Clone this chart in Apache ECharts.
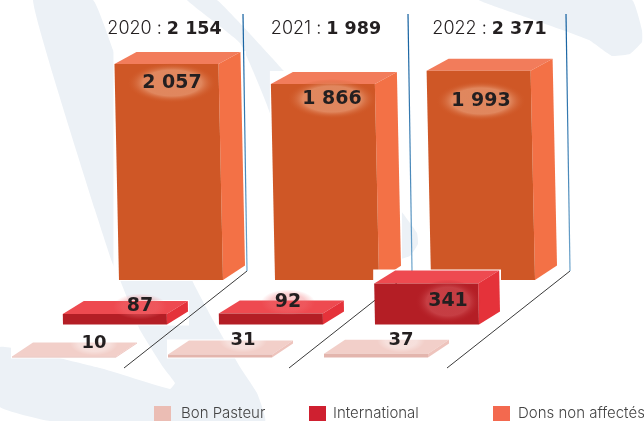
<!DOCTYPE html>
<html>
<head>
<meta charset="utf-8">
<style>html,body{margin:0;padding:0;background:#fff;overflow:hidden}#c{width:644px;height:421px}</style>
<script src="https://cdn.jsdelivr.net/npm/echarts@6/dist/echarts.min.js"></script>
</head>
<body>
<div id="c"></div>
<script>
const years = ['2020', '2021', '2022'];
const totals = [2154, 1989, 2371];
const bonPasteur = [10, 31, 37];
const international = [87, 92, 341];
const donsNonAffectes = [2057, 1866, 1993];
const seriesNames = ['Bon Pasteur', 'International', 'Dons non affectés'];

const fmt = v => String(v).replace(/\B(?=(\d{3})+$)/g, ' ');
const pairs = vals => vals.map((v, i) => [years[i], v]);

const bigFont = '"DejaVu Sans"';
const thinFont = 'Inter, Lato, sans-serif';

function geom(look, api) {
  const i = api.value(0), v = api.value(1);
  const top = api.coord([i, v]), base = api.coord([i, 0]);
  const w = api.size([1, 0])[0] * 2 / 3;
  const h = base[1] - top[1];
  return { i, v, w, h, skew: h * look.skew, x0: base[0] - w / 2, yb: base[1], yt: top[1] };
}

function halo(look) {
  return function (params, api) {
    const g = geom(look, api);
    return { type: 'rect', shape: { x: g.x0 - g.skew - 1, y: g.yt - look.dy - 1, width: g.w + look.dx + g.skew + 2, height: g.h + look.dy + 2 }, style: { fill: '#fff' } };
  };
}

function box(look) {
  return function (params, api) {
    const g = geom(look, api);
    const { i, v, w, h, skew, x0, yb, yt } = g;
    const dx = look.dx, dy = look.dy, dyB = dy + h * look.skewY;
    const front = [[x0 - skew, yt], [x0 - skew + w, yt], [x0 + w, yb], [x0, yb]];
    const topFace = [[x0 - skew, yt], [x0 - skew + dx, yt - dy], [x0 - skew + w + dx, yt - dy], [x0 - skew + w, yt]];
    const side = [[x0 - skew + w, yt], [x0 - skew + w + dx, yt - dy], [x0 + w + dx, yb - dyB], [x0 + w, yb]];
    const n = look.nudge[i];
    const lx = x0 + w / 2 + n[0], ly = yb + n[1];
    const kids = [];
    if (look.selfHalo) kids.push(halo(look)(params, api));
    kids.push(
      { type: 'polygon', shape: { points: topFace }, style: { fill: look.top } },
      { type: 'polygon', shape: { points: side }, style: { fill: look.side } },
      { type: 'polygon', shape: { points: front }, style: { fill: look.front } }
    );
    const gl = look.glow[i];
    kids.push({
      type: 'circle', x: lx, y: ly, scaleX: gl.rx, scaleY: gl.ry, shape: { cx: 0, cy: 0, r: 1 },
      style: { fill: new echarts.graphic.RadialGradient(0.5, 0.5, 0.5, [
        { offset: 0, color: gl.color }, { offset: 0.65, color: gl.color }, { offset: 1, color: gl.edge }
      ]) }
    });
    kids.push({
      type: 'text',
      style: { x: lx, y: ly, text: fmt(v), fill: '#231f20', font: 'bold ' + look.size + 'px ' + bigFont, align: 'center', verticalAlign: 'middle' }
    });
    return { type: 'group', children: kids };
  };
}

const titleNudge = [-6.5, -1, 6.5];
const wallNudge = [0, 9, 11];
function frame(params, api) {
  const i = api.value(0);
  const p = api.coord([i, 0]);
  const bx = p[0] + 76 + wallNudge[i], by = p[1];
  const blue = new echarts.graphic.LinearGradient(0, 0, 0, 1, [
    { offset: 0, color: '#0f5d9e' }, { offset: 1, color: '#6fa5cc' }
  ]);
  return {
    type: 'group', children: [
      { type: 'line', shape: { x1: bx, y1: by - 9, x2: bx - 123, y2: by + 88 }, style: { stroke: '#3a3a3a', lineWidth: 1 } },
      { type: 'line', shape: { x1: bx, y1: by - 9, x2: bx - 4, y2: by - 266 }, style: { stroke: blue, lineWidth: 1.2 } },
      { type: 'text', style: {
        x: p[0] + titleNudge[i], y: by - 251,
        text: '{a|' + years[i] + ' : }{b|' + fmt(api.value(1)) + '}',
        align: 'center', verticalAlign: 'middle',
        rich: {
          a: { fontFamily: thinFont, fontWeight: 300, fontSize: 18, fill: '#231f20', color: '#231f20' },
          b: { fontFamily: bigFont, fontWeight: 'bold', fontSize: 17.5, fill: '#231f20', color: '#231f20' }
        }
      } }
    ]
  };
}

const orangeGlow = { rx: 45, ry: 20, color: 'rgba(226,140,100,0.9)', edge: 'rgba(207,87,38,0)' };
const orangeLook = { selfHalo: true, skew: 0.021, skewY: 0.012, dx: 22, dy: 12, top: '#f27c5b', side: '#f37146', front: '#cf5726', size: 19,
  glow: [orangeGlow, orangeGlow, orangeGlow], nudge: [[1, -197], [5, -181], [-2, -179]] };
const redGlow = { rx: 27, ry: 13, color: 'rgba(240,110,115,0.35)', edge: 'rgba(240,110,115,0)' };
const redLook = { skew: 0.02, skewY: 0, dx: 21, dy: 13, top: '#ee4a50', side: '#e5323a', front: '#b41e25', size: 19,
  glow: [redGlow, redGlow, { rx: 33, ry: 22, color: 'rgba(205,75,80,0.7)', edge: 'rgba(180,30,37,0)' }], nudge: [[25, -18], [17, -22], [21, -23]] };
const pinkGlow = { rx: 24, ry: 12, color: 'rgba(255,255,255,0.35)', edge: 'rgba(255,255,255,0)' };
const pinkLook = { skew: 0, skewY: 0, dx: 21, dy: 14, top: '#f2cfc9', side: '#eec4bd', front: '#e3b5ad', size: 18,
  glow: [pinkGlow, pinkGlow, pinkGlow], nudge: [[30, -14], [23, -17], [25, -17]] };

function grid(left, bottom, height) { return { left: left, width: 312, bottom: bottom, height: height, containLabel: false }; }
function xA(g) { return { type: 'category', data: years, gridIndex: g, show: false, boundaryGap: false }; }
function yA(g, max) { return { type: 'value', gridIndex: g, min: 0, max: max, show: false }; }

const bgShapes = [
  [[33,0],[93,0],[113,50],[192,280],[213,320],[240,367],[257,393],[265,421],[50,421],[0,407],[0,347],[100,368],[170,389],[175,383],[163,367],[140,330],[120,280],[112,262],[95,210]],
  [[187,0],[217,0],[283,70],[398,207],[417,233],[418,244],[410,256],[390,262],[300,270],[275,170],[270,113],[240,43]],
  [[479,0],[632,0],[642,30],[642,42],[630,54],[612,56],[589,40],[540,22]]
];

const legendItem = (name, left, gap) => ({
  data: [name], left: left, top: 406, icon: 'rect', itemWidth: 17, itemHeight: 15, itemGap: 0, padding: 0,
  textStyle: { fontFamily: thinFont, fontSize: 15, color: '#444', fontWeight: 300, padding: [1, 0, 0, gap] }
});

const enc = { x: 0, y: 1 };
const chart = echarts.init(document.getElementById('c'), null, { renderer: 'canvas' });
chart.setOption({
  animation: false,
  backgroundColor: '#fff',
  textStyle: { fontFamily: thinFont },
  graphic: bgShapes.map(pts => ({ type: 'polygon', z: 0, silent: true, shape: { points: pts, smooth: 0.1 }, style: { fill: '#ecf1f6' } })),
  grid: [grid(171, 141, 273), grid(115, 96.5, 60), grid(64, 63.5, 30)],
  xAxis: [xA(0), xA(1), xA(2)],
  yAxis: [yA(0, 2600), yA(1, 500), yA(2, 300)],
  legend: [legendItem(seriesNames[0], 154, 5), legendItem(seriesNames[1], 309, 2), legendItem(seriesNames[2], 493, 3)],
  series: [
    { name: seriesNames[2], type: 'custom', xAxisIndex: 0, yAxisIndex: 0, z: 2, clip: false, renderItem: box(orangeLook), data: pairs(donsNonAffectes), encode: enc, itemStyle: { color: '#f3694f' } },
    { name: 'halo-pink', type: 'custom', xAxisIndex: 2, yAxisIndex: 2, z: 3, clip: false, silent: true, renderItem: halo(pinkLook), data: pairs(bonPasteur), encode: enc },
    { name: 'halo-red', type: 'custom', xAxisIndex: 1, yAxisIndex: 1, z: 3, clip: false, silent: true, renderItem: halo(redLook), data: pairs(international), encode: enc },
    { name: 'frame', type: 'custom', xAxisIndex: 0, yAxisIndex: 0, z: 4, clip: false, silent: true, renderItem: frame, data: pairs(totals), encode: enc },
    { name: seriesNames[1], type: 'custom', xAxisIndex: 1, yAxisIndex: 1, z: 5, clip: false, renderItem: box(redLook), data: pairs(international), encode: enc, itemStyle: { color: '#cf2030' } },
    { name: seriesNames[0], type: 'custom', xAxisIndex: 2, yAxisIndex: 2, z: 5, clip: false, renderItem: box(pinkLook), data: pairs(bonPasteur), encode: enc, itemStyle: { color: '#ebbdb4' } }
  ]
});
</script>
</body>
</html>
